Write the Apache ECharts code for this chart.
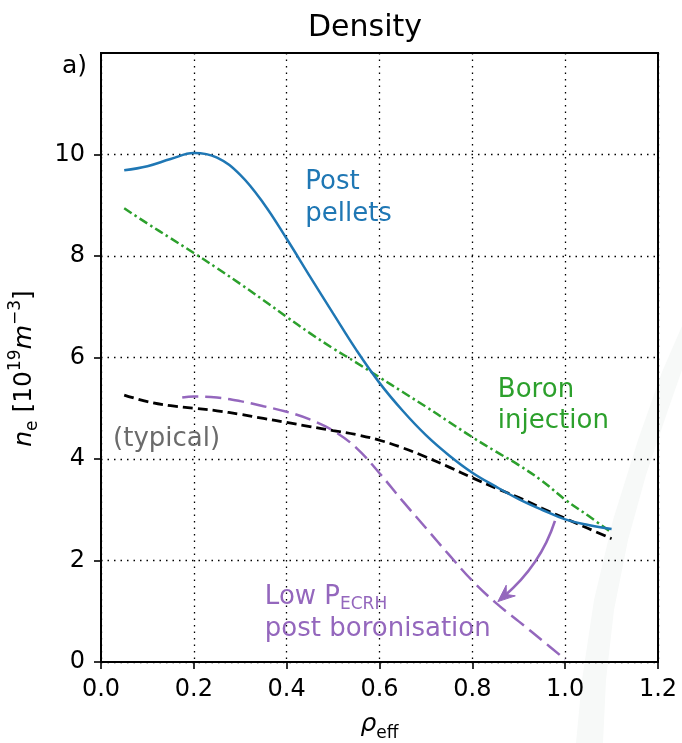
<!DOCTYPE html>
<html>
<head>
<meta charset="utf-8">
<script src="https://cdn.jsdelivr.net/npm/echarts@6/dist/echarts.min.js"></script>
<style>html,body{margin:0;padding:0;background:#fff;}#c{width:682px;height:743px;}</style>
</head>
<body>
<div id="c"></div>
<script>
// ---- data ----
const xTicks = [0.0, 0.2, 0.4, 0.6, 0.8, 1.0, 1.2];
const yTicks = [0, 2, 4, 6, 8, 10];
const rho = [0.05,0.1,0.15,0.2,0.25,0.3,0.35,0.4,0.45,0.5,0.55,0.6,0.65,0.7,0.75,0.8,0.85,0.9,0.95,1.0,1.05,1.1];
const postPellets = [9.69,9.77,9.91,10.03,9.94,9.6,9.04,8.34,7.6,6.87,6.15,5.5,4.95,4.47,4.07,3.73,3.46,3.21,3.0,2.81,2.7,2.62];
const boronInjection = [8.94,8.64,8.35,8.06,7.76,7.45,7.13,6.8,6.48,6.18,5.9,5.61,5.32,5.03,4.73,4.43,4.15,3.88,3.57,3.2,2.88,2.55];
const typical = [5.26,5.13,5.05,5.0,4.95,4.88,4.8,4.72,4.64,4.56,4.48,4.37,4.22,4.04,3.84,3.63,3.43,3.24,3.03,2.83,2.63,2.43];
const rhoLow = [0.175,0.2,0.25,0.3,0.35,0.4,0.45,0.5,0.55,0.6,0.65,0.7,0.75,0.8,0.85,0.9,0.95,1.0];
const lowPecrh = [5.21,5.23,5.21,5.14,5.04,4.93,4.78,4.56,4.22,3.72,3.17,2.64,2.11,1.6,1.17,0.8,0.43,0.05];
// annotation anchors (data coords)
const arrowStart = [0.978, 2.78];
const arrowMid = [0.932, 1.95];
const arrowEnd = [0.855, 1.19];
const labelPost = [0.44, 9.13];
const labelBoron = [0.855, 5.04];
const labelTypical = [0.026, 4.39];
const labelLow = [0.353, 0.97];

const FONT = 'DejaVu Sans';
const C_BLUE = '#1f77b4', C_GREEN = '#2ca02c', C_PURPLE = '#9467bd', C_GRAY = '#6b6b6b';

const pair = (xs, ys) => xs.map((x, i) => [x, ys[i]]);

const chart = echarts.init(document.getElementById('c'), null, {renderer: 'canvas'});

const option = {
  animation: false,
  backgroundColor: '#fff',
  textStyle: {fontFamily: FONT},
  title: {
    text: 'Density', left: 360, top: 8, textAlign: 'center',
    textStyle: {fontFamily: FONT, fontSize: 30, fontWeight: 'normal', color: '#000'}
  },
  grid: {left: 101, right: 24, top: 53, bottom: 81, show: true, borderColor: '#000', borderWidth: 2,
         containLabel: false, outerBoundsMode: 'none'},
  xAxis: {
    type: 'value', min: 0, max: 1.2, interval: 0.2,
    name: '{i|ρ}{s|eff}', nameLocation: 'middle', nameGap: 50,
    nameTextStyle: {rich: {
      i: {fontFamily: FONT, fontStyle: 'italic', fontSize: 25, color: '#000', lineHeight: 30, verticalAlign: 'top'},
      s: {fontFamily: FONT, fontSize: 17, color: '#000', lineHeight: 17, verticalAlign: 'bottom'}
    }},
    axisLine: {show: true, lineStyle: {color: '#000', width: 2}},
    axisTick: {show: true, inside: false, length: 7, lineStyle: {color: '#000', width: 1.6}, customValues: xTicks},
    axisLabel: {fontFamily: FONT, fontSize: 24, color: '#000', margin: 16, customValues: xTicks, formatter: v => v.toFixed(1)},
    splitLine: {show: true, lineStyle: {color: '#000', width: 1.3, type: [1.5, 5]}}
  },
  yAxis: {
    type: 'value', min: 0, max: 12, interval: 2,
    name: '{i|n}{s|e}{n| [10}{p|19}{i|m}{p|−3}{n|]}', nameLocation: 'middle', nameRotate: 90, nameGap: 60,
    nameTextStyle: {padding: [0, 22, 0, 0], rich: {
      i: {fontFamily: FONT, fontStyle: 'italic', fontSize: 25, color: '#000', lineHeight: 34},
      n: {fontFamily: FONT, fontSize: 25, color: '#000', lineHeight: 34},
      s: {fontFamily: FONT, fontSize: 17, color: '#000', lineHeight: 17, verticalAlign: 'bottom'},
      p: {fontFamily: FONT, fontSize: 17, color: '#000', lineHeight: 17, verticalAlign: 'top'}
    }, fontFamily: FONT, fontSize: 25, color: '#000'},
    axisLine: {show: true, lineStyle: {color: '#000', width: 2}},
    axisTick: {show: true, inside: false, length: 7, lineStyle: {color: '#000', width: 1.6}, customValues: yTicks},
    axisLabel: {fontFamily: FONT, fontSize: 24, color: '#000', margin: 16, customValues: yTicks},
    splitLine: {show: true, lineStyle: {color: '#000', width: 1.3, type: [1.5, 5]}}
  },
  series: [
    {name: 'typical', type: 'line', data: pair(rho, typical), smooth: 0.4, showSymbol: false, z: 3,
     lineStyle: {color: '#000', width: 2.8, type: [10, 5]}},
    {name: 'low', type: 'line', data: pair(rhoLow, lowPecrh), smooth: 0.4, showSymbol: false, z: 3,
     lineStyle: {color: C_PURPLE, width: 2.5, type: [16, 7]}},
    {name: 'boron', type: 'line', data: pair(rho, boronInjection), smooth: 0.4, showSymbol: false, z: 4,
     lineStyle: {color: C_GREEN, width: 2.5, type: [9, 3.5, 2.5, 3.5]}},
    {name: 'post', type: 'line', data: pair(rho, postPellets), smooth: 0.4, showSymbol: false, z: 5,
     lineStyle: {color: C_BLUE, width: 2.5}}
  ]
};
chart.setOption(option);

function P(pt) { return chart.convertToPixel({gridIndex: 0}, pt); }

const s = P(arrowStart), m = P(arrowMid), e = P(arrowEnd);
const ctrl = [2 * m[0] - (s[0] + e[0]) / 2, 2 * m[1] - (s[1] + e[1]) / 2];
let dx = e[0] - ctrl[0], dy = e[1] - ctrl[1];
const len = Math.hypot(dx, dy); dx /= len; dy /= len;
const hl = 17, hw = 7;
const base = [e[0] - dx * hl, e[1] - dy * hl];
const notch = [e[0] - dx * hl * 0.65, e[1] - dy * hl * 0.65];
const left = [base[0] - dy * hw, base[1] + dx * hw];
const right = [base[0] + dy * hw, base[1] - dx * hw];
const shaftEnd = [e[0] - dx * 8, e[1] - dy * 8];

const pPost = P(labelPost), pBoron = P(labelBoron), pTyp = P(labelTypical), pLow = P(labelLow);

chart.setOption({
  graphic: [
    {type: 'polygon', z: -10, silent: true,
     shape: {points: [[576,743],[582,680],[594,600],[613,520],[638,440],[662,372],[682,326],[682,370],[668,410],[646,475],[628,540],[614,610],[606,680],[603,743]]},
     style: {fill: '#f7f9f8'}},
    {type: 'text', left: 62, top: 54, z: 10,
     style: {text: 'a)', fontFamily: FONT, fontSize: 25, fill: '#000'}},
    {type: 'bezierCurve', z: 10,
     shape: {x1: s[0], y1: s[1], cpx1: ctrl[0], cpy1: ctrl[1], x2: shaftEnd[0], y2: shaftEnd[1]},
     style: {stroke: C_PURPLE, lineWidth: 2.6, fill: null}},
    {type: 'polygon', z: 10,
     shape: {points: [e, left, notch, right]},
     style: {fill: C_PURPLE, stroke: C_PURPLE, lineWidth: 1}},
    {type: 'text', x: pPost[0], y: pPost[1], z: 10,
     style: {text: 'Post\npellets', fontFamily: FONT, fontSize: 26, lineHeight: 32, fill: C_BLUE, align: 'left', verticalAlign: 'middle'}},
    {type: 'text', x: pBoron[0], y: pBoron[1], z: 10,
     style: {text: 'Boron\ninjection', fontFamily: FONT, fontSize: 26, lineHeight: 31, fill: C_GREEN, align: 'left', verticalAlign: 'middle'}},
    {type: 'text', x: pTyp[0], y: pTyp[1], z: 10,
     style: {text: '(typical)', fontFamily: FONT, fontSize: 26, fill: C_GRAY, align: 'left', verticalAlign: 'middle'}},
    {type: 'text', x: pLow[0], y: pLow[1], z: 10,
     style: {text: '{n|Low P}{s|ECRH}\n{n|post boronisation}', fontFamily: FONT, fontSize: 26, fill: C_PURPLE,
       align: 'left', verticalAlign: 'middle',
       rich: {
         n: {fontFamily: FONT, fontSize: 26, fill: C_PURPLE, color: C_PURPLE, lineHeight: 32},
         s: {fontFamily: FONT, fontSize: 17, fill: C_PURPLE, color: C_PURPLE, lineHeight: 17, verticalAlign: 'bottom'}
       }}}
  ]
});
</script>
</body>
</html>
